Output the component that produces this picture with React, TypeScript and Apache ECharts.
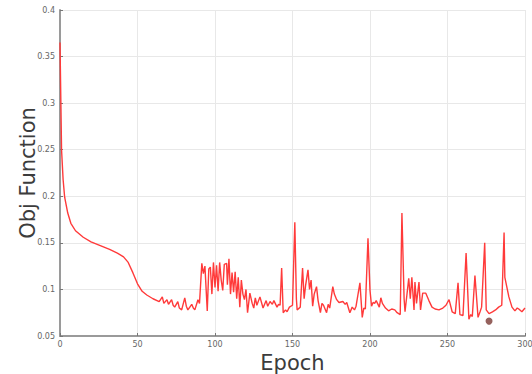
import React, { useEffect, useRef } from "react";
import * as echarts from "echarts";

const epochs: number[] = [
  0, 1, 2, 3, 5, 7, 10, 15, 20, 26, 32, 37, 41, 44, 47, 50, 53, 56, 60, 64,
  66, 67, 69, 70, 72, 73, 74, 76, 77, 78.5, 80.5, 81.5, 82.5, 85, 86, 87, 89, 90,
  91.5, 92.5, 93.5, 95, 96, 97, 98, 99, 100, 101, 102, 103, 104, 105, 106, 107.5,
  108, 109, 110, 111, 112, 113, 114, 115, 116, 117, 118, 119, 120, 121, 122.5,
  124, 125, 126, 127, 129, 130, 131, 133, 134, 135.5, 137, 138, 140, 141, 142,
  143, 144, 145.5, 146.5, 148, 150, 151.5, 152.5, 153, 155, 156.5, 157.5, 158.5,
  160, 161, 162, 163, 164, 165.5, 166.5, 168, 169, 170, 172, 173, 174, 176, 177,
  178.5, 180, 182.5, 184, 185, 187, 188.5, 190, 191, 193.5, 195, 196, 197, 198.7,
  200, 201, 202, 203, 204, 206, 207, 208, 210, 212, 214, 216, 217.5, 219.5, 220.6,
  222, 222.6, 225, 226, 227, 228.4, 229, 230, 231.6, 232.6, 234, 236, 238, 240,
  242, 244.5, 247, 249, 251, 253, 255, 256.8, 258, 260, 262, 263.8, 265, 266,
  267.7, 269.7, 271, 272, 274, 275, 276.8, 279, 281, 283, 285, 286.5, 287, 289.6,
  291.6, 293.5, 295, 296, 298, 300,
];

const objValues: number[] = [
  0.365, 0.25, 0.218, 0.199, 0.182, 0.171, 0.163, 0.156, 0.151, 0.147, 0.143,
  0.139, 0.135, 0.129, 0.118, 0.106, 0.098, 0.094, 0.09, 0.087,
  0.092, 0.085, 0.089, 0.084, 0.089, 0.083, 0.081, 0.087, 0.08, 0.078, 0.091,
  0.082, 0.078, 0.084, 0.08, 0.078, 0.089, 0.085,
  0.128, 0.117, 0.125, 0.077, 0.122, 0.124, 0.095, 0.129, 0.102, 0.126, 0.098,
  0.129, 0.11, 0.099, 0.127, 0.128,
  0.105, 0.133, 0.095, 0.118, 0.097, 0.119, 0.09, 0.113, 0.081, 0.11, 0.095,
  0.089, 0.1, 0.075, 0.096,
  0.085, 0.08, 0.091, 0.083, 0.092, 0.086, 0.08, 0.088, 0.082, 0.087, 0.084,
  0.088, 0.081, 0.084, 0.083,
  0.123, 0.075, 0.078, 0.076, 0.081, 0.083, 0.172, 0.09, 0.078, 0.081, 0.123,
  0.09, 0.105,
  0.121, 0.1, 0.11, 0.082, 0.095, 0.103, 0.088, 0.075, 0.085, 0.083, 0.075,
  0.084, 0.08, 0.103, 0.095,
  0.089, 0.086, 0.087, 0.084, 0.086, 0.075, 0.081, 0.078, 0.082, 0.107, 0.07,
  0.08, 0.079, 0.155,
  0.099, 0.082, 0.086, 0.085, 0.088, 0.081, 0.091, 0.085, 0.08, 0.077, 0.079,
  0.078, 0.075, 0.073, 0.182,
  0.09, 0.076, 0.112, 0.09, 0.113, 0.078, 0.108, 0.085, 0.108, 0.078, 0.096,
  0.096, 0.088, 0.081,
  0.079, 0.078, 0.08, 0.083, 0.089, 0.076, 0.074, 0.107, 0.073, 0.072, 0.139,
  0.068, 0.073, 0.071,
  0.115, 0.07, 0.076, 0.081, 0.15, 0.078, 0.074, 0.076, 0.078, 0.081, 0.083,
  0.161, 0.113, 0.092,
  0.081, 0.077, 0.08, 0.079, 0.076, 0.08,
];

const markerPoint: [number, number] = [276.8, 0.066];

const xTicks = { min: 0, max: 300, interval: 50 };
const yTicks = { min: 0.05, max: 0.4, interval: 0.05 };

export default function App() {
  const ref = useRef<HTMLDivElement>(null);
  useEffect(() => {
    document.body.style.margin = "0";
    if (!ref.current) return;
    const chart = echarts.init(ref.current, undefined, { renderer: "svg" });
    const lineData = epochs.map((e, i) => [e, objValues[i]]);
    const axisCommon = {
      axisLine: { show: true, lineStyle: { color: "#9a9a9a", width: 2 } },
      axisTick: { show: true, inside: true, length: 3, lineStyle: { color: "#777" } },
      axisLabel: { color: "#666", fontSize: 8, fontFamily: "DejaVu Sans" },
      splitLine: { show: true, lineStyle: { color: "#e8e8e8", width: 1 } },
      nameTextStyle: { color: "#3c3c3c", fontSize: 21, fontFamily: "DejaVu Sans" },
    };
    chart.setOption({
      animation: false,
      backgroundColor: "#ffffff",
      grid: {
        left: 60,
        right: 7,
        top: 10,
        bottom: 38,
        containLabel: false,
        outerBoundsMode: "none",
      },
      xAxis: {
        type: "value",
        ...xTicks,
        name: "Epoch",
        nameLocation: "middle",
        nameGap: 11,
        ...axisCommon,
        axisLabel: { ...axisCommon.axisLabel, margin: 4 },
      },
      yAxis: {
        type: "value",
        ...yTicks,
        name: "Obj Function",
        nameLocation: "middle",
        nameGap: 22,
        nameMoveOverlap: false,
        ...axisCommon,
        axisLabel: { ...axisCommon.axisLabel, margin: 5 },
      },
      series: [
        {
          type: "line",
          data: lineData,
          showSymbol: false,
          lineStyle: { color: "#ff3a3a", width: 1.4 },
          itemStyle: { color: "#ff3a3a" },
        },
        {
          type: "scatter",
          data: [markerPoint],
          symbolSize: 7,
          itemStyle: { color: "#7a3a34" },
        },
      ],
    });
    return () => chart.dispose();
  }, []);
  return <div ref={ref} style={{ width: 532, height: 374 }} />;
}
